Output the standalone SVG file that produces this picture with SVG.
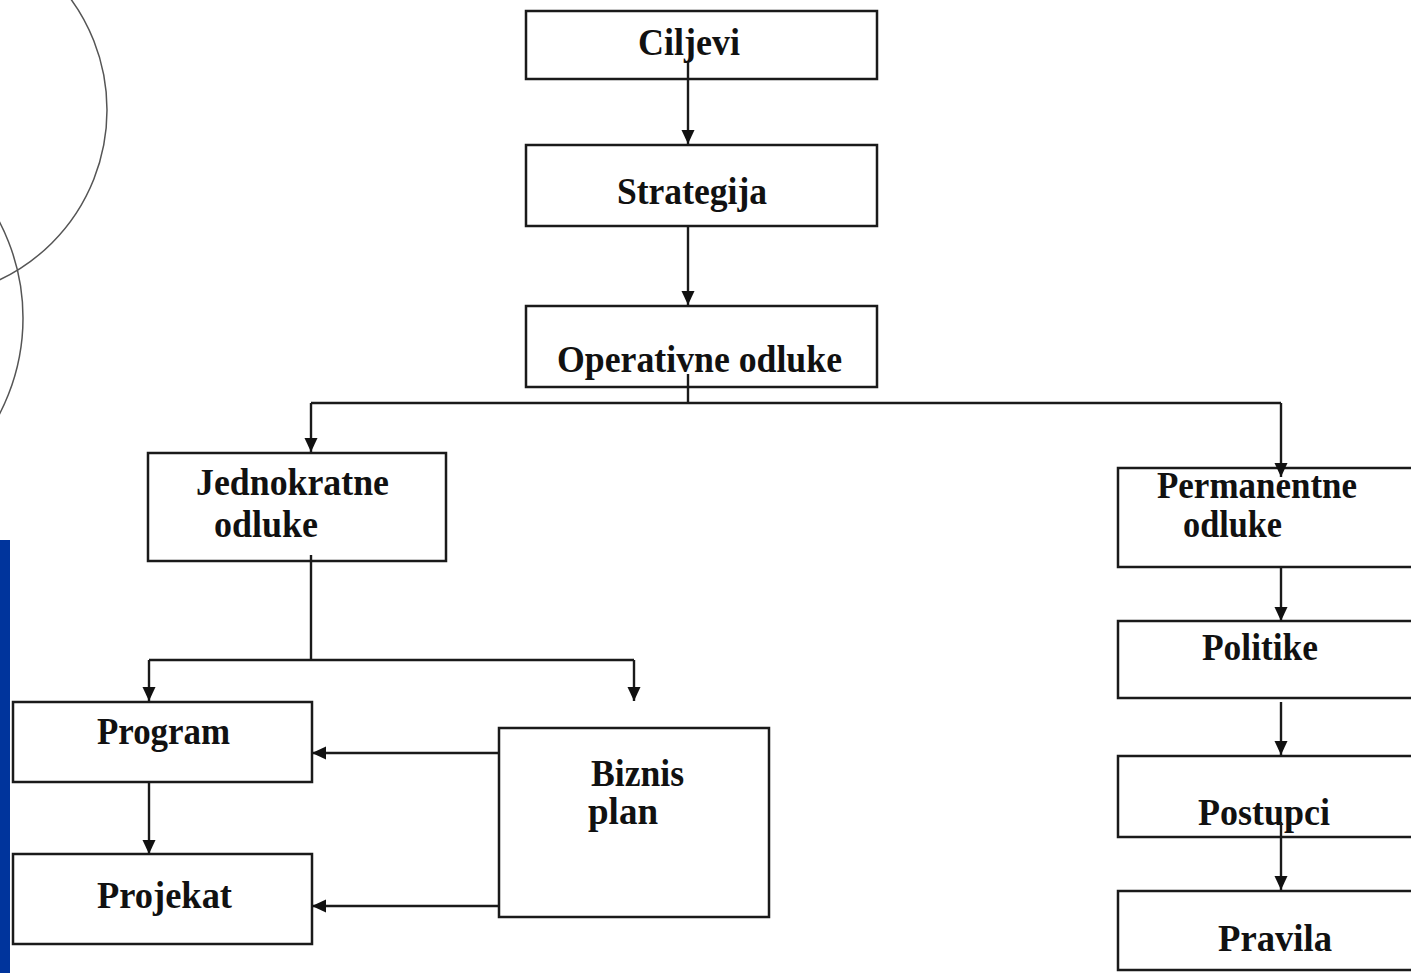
<svg xmlns="http://www.w3.org/2000/svg" width="1411" height="973" viewBox="0 0 1411 973">
<style>
.box{fill:#ffffff;stroke:#1a1a1a;stroke-width:2.5}
.t{font-family:"Liberation Serif","Times New Roman",serif;font-weight:bold;font-size:38px;fill:#111}
.c{fill:none;stroke:#1a1a1a;stroke-width:2.4}
.deco{fill:none;stroke:#555;stroke-width:1.5}
</style>
<defs>
<marker id="ah" markerUnits="userSpaceOnUse" markerWidth="14" markerHeight="16" viewBox="0 0 14 16" refX="14" refY="8" orient="auto">
<path d="M0,1.5 L14,8 L0,14.5 Z" fill="#111"/>
</marker>
</defs>
<rect width="1411" height="973" fill="#ffffff"/>
<g id="decor">
<circle class="deco" cx="-81" cy="110" r="188"/>
<circle class="deco" cx="-185" cy="318" r="208"/>
<rect x="0" y="540" width="10" height="433" fill="#00349c"/>
</g>
<g id="n-ciljevi"><rect class="box" x="526" y="11" width="351" height="68"/><text class="t" x="638" y="55" textLength="102" lengthAdjust="spacingAndGlyphs">Ciljevi</text></g>
<g id="n-strategija"><rect class="box" x="526" y="145" width="351" height="81"/><text class="t" x="617" y="204" textLength="150" lengthAdjust="spacingAndGlyphs">Strategija</text></g>
<g id="n-operativne"><rect class="box" x="526" y="306" width="351" height="81"/><text class="t" x="557" y="372" textLength="285" lengthAdjust="spacingAndGlyphs">Operativne odluke</text></g>
<g id="n-jednokratne"><rect class="box" x="148" y="453" width="298" height="108"/><text class="t" x="196" y="495" textLength="193" lengthAdjust="spacingAndGlyphs">Jednokratne</text><text class="t" x="214" y="537" textLength="104" lengthAdjust="spacingAndGlyphs">odluke</text></g>
<g id="n-program"><rect class="box" x="13" y="702" width="299" height="80"/><text class="t" x="97" y="744" textLength="133" lengthAdjust="spacingAndGlyphs">Program</text></g>
<g id="n-projekat"><rect class="box" x="13" y="854" width="299" height="90"/><text class="t" x="97" y="908" textLength="135" lengthAdjust="spacingAndGlyphs">Projekat</text></g>
<g id="n-biznis"><rect class="box" x="499" y="728" width="270" height="189"/><text class="t" x="591" y="786" textLength="93" lengthAdjust="spacingAndGlyphs">Biznis</text><text class="t" x="588" y="824" textLength="70" lengthAdjust="spacingAndGlyphs">plan</text></g>
<g id="n-permanentne"><rect class="box" x="1118" y="468" width="300" height="99"/><text class="t" x="1157" y="498" textLength="200" lengthAdjust="spacingAndGlyphs">Permanentne</text><text class="t" x="1183" y="537" textLength="99" lengthAdjust="spacingAndGlyphs">odluke</text></g>
<g id="n-politike"><rect class="box" x="1118" y="621" width="300" height="77"/><text class="t" x="1202" y="660" textLength="116" lengthAdjust="spacingAndGlyphs">Politike</text></g>
<g id="n-postupci"><rect class="box" x="1118" y="756" width="300" height="81"/><text class="t" x="1198" y="825" textLength="132" lengthAdjust="spacingAndGlyphs">Postupci</text></g>
<g id="n-pravila"><rect class="box" x="1118" y="891" width="300" height="79"/><text class="t" x="1218" y="951" textLength="114" lengthAdjust="spacingAndGlyphs">Pravila</text></g>
<g id="connectors">
<path class="c" d="M688,62 V144" marker-end="url(#ah)"/>
<path class="c" d="M688,226 V305" marker-end="url(#ah)"/>
<path class="c" d="M688,374 V403"/>
<path class="c" d="M311,403 H1281"/>
<path class="c" d="M311,403 V452" marker-end="url(#ah)"/>
<path class="c" d="M1281,403 V477" marker-end="url(#ah)"/>
<path class="c" d="M311,555 V660"/>
<path class="c" d="M149,660 H634"/>
<path class="c" d="M149,660 V701" marker-end="url(#ah)"/>
<path class="c" d="M634,660 V701" marker-end="url(#ah)"/>
<path class="c" d="M149,782 V854" marker-end="url(#ah)"/>
<path class="c" d="M499,753 H312" marker-end="url(#ah)"/>
<path class="c" d="M499,906 H312" marker-end="url(#ah)"/>
<path class="c" d="M1281,567 V621" marker-end="url(#ah)"/>
<path class="c" d="M1281,702 V755" marker-end="url(#ah)"/>
<path class="c" d="M1281,822 V890" marker-end="url(#ah)"/>
</g>
</svg>
